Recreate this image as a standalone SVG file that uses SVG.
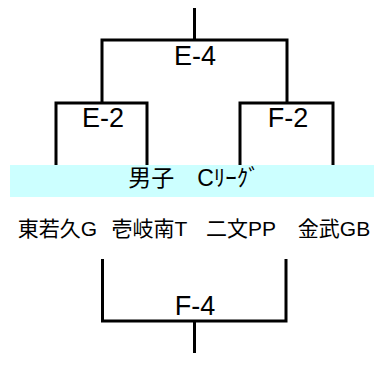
<svg xmlns="http://www.w3.org/2000/svg" width="374" height="365" viewBox="0 0 374 365">
<style>
.ln{fill:none;stroke:#000;stroke-width:3;stroke-linejoin:miter}
.lbl{font-family:"Liberation Sans",Arial,sans-serif;font-size:27px;fill:#000;text-anchor:middle}
.team{font-family:"Liberation Sans","Noto Sans CJK JP",sans-serif;font-size:21px;fill:#000;text-anchor:middle}
.title{font-family:"Liberation Sans","Noto Sans CJK JP",sans-serif;font-size:23px;fill:#000;text-anchor:middle}
</style>
<rect width="374" height="365" fill="#fff"/>
<g id="connectors">
<line class="ln" x1="194.5" y1="8" x2="194.5" y2="40"/>
<polyline class="ln" points="102,103 102,40 287,40 287,103"/>
<polyline class="ln" points="56,165 56,103 147,103 147,165"/>
<polyline class="ln" points="240,165 240,103 333,103 333,165"/>
<polyline class="ln" points="102.5,259 102.5,321 286,321 286,259"/>
<line class="ln" x1="194.5" y1="321" x2="194.5" y2="353"/>
</g>
<g id="band">
<rect x="10" y="165" width="364" height="32" fill="#ccffff"/>
<text class="title" x="194" y="186">男子　Cﾘｰｸﾞ</text>
</g>
<g id="E-4"><text class="lbl" x="195" y="65">E-4</text></g>
<g id="E-2"><text class="lbl" x="103" y="127">E-2</text></g>
<g id="F-2"><text class="lbl" x="288" y="127">F-2</text></g>
<g id="F-4"><text class="lbl" x="195" y="315">F-4</text></g>
<g id="team1"><text class="team" x="57.5" y="236">東若久G</text></g>
<g id="team2"><text class="team" x="149.5" y="236">壱岐南T</text></g>
<g id="team3"><text class="team" x="241" y="236">二文PP</text></g>
<g id="team4"><text class="team" x="334" y="236">金武GB</text></g>
</svg>
